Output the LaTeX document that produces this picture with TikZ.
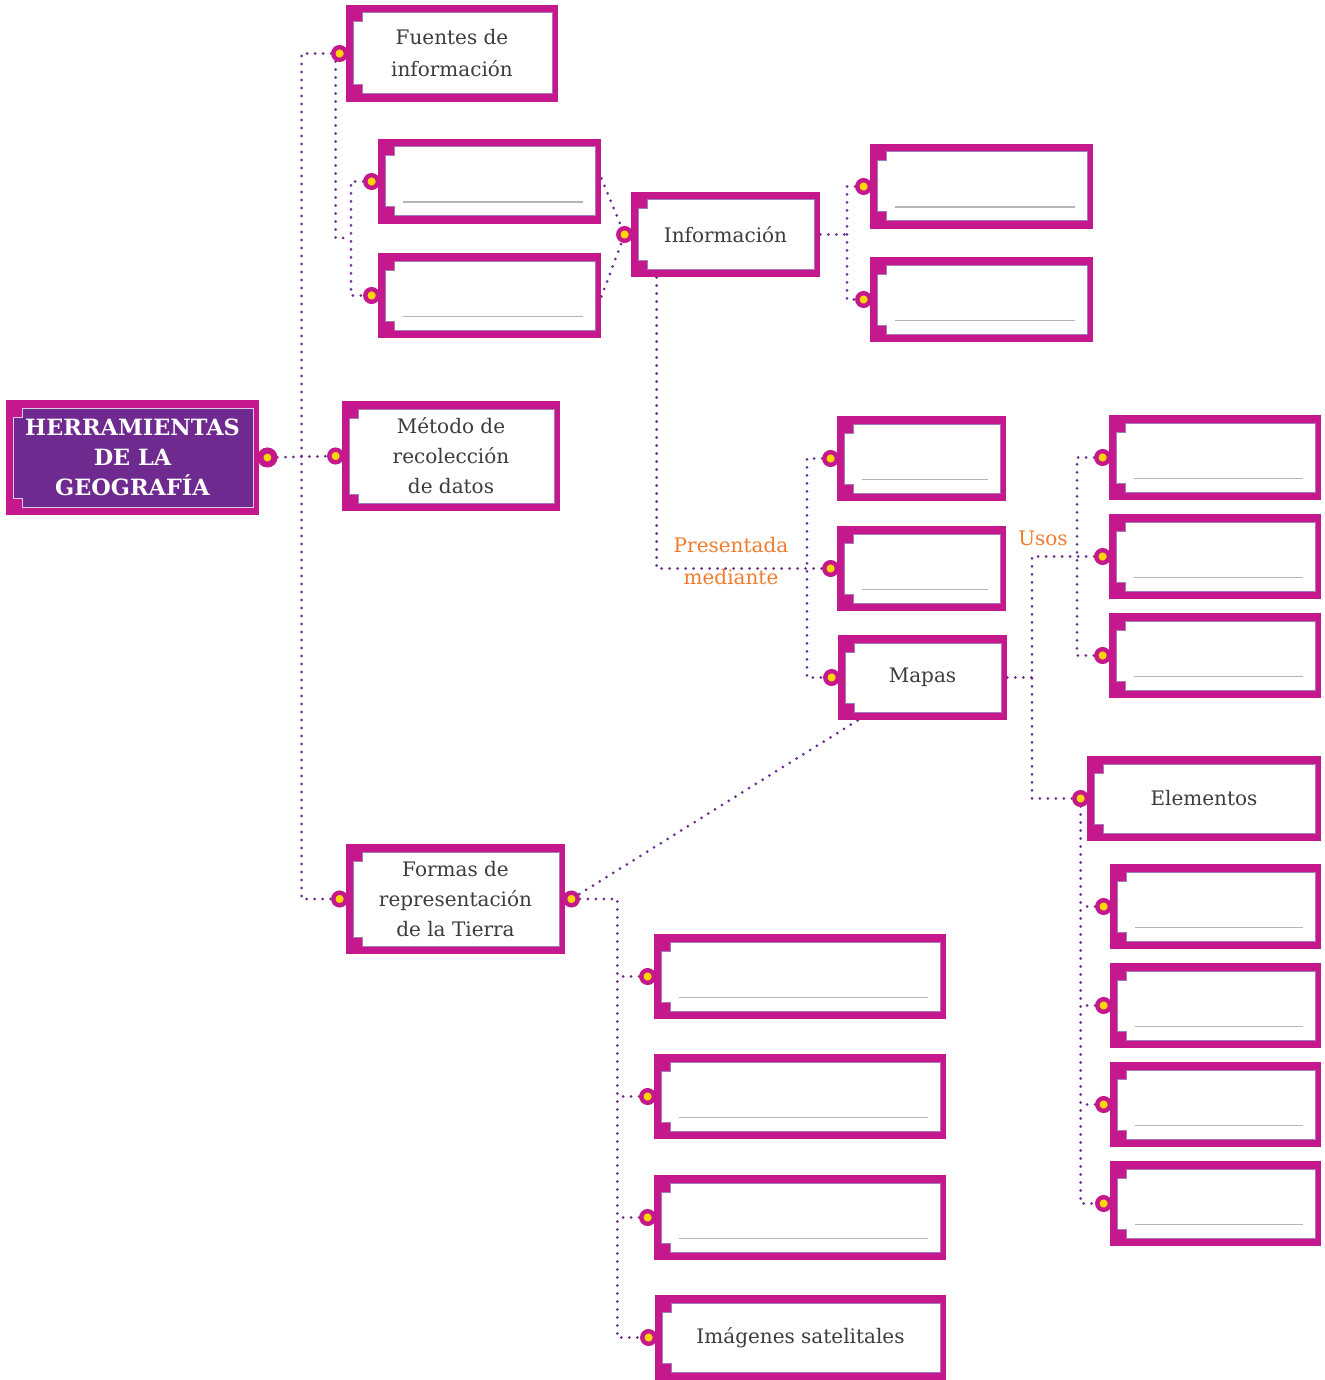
\documentclass[tikz,border=0pt]{standalone}
\usepackage{fontspec}
\setmainfont{DejaVu Serif}
\usetikzlibrary{calc,backgrounds}

\definecolor{framecol}{HTML}{C5188C}
\definecolor{titlecol}{HTML}{6E2A8E}
\definecolor{linkcol}{HTML}{6B2C8F}
\definecolor{dotcol}{HTML}{FFD500}
\definecolor{edgecol}{HTML}{A67AB8}
\definecolor{labelcol}{HTML}{F07B2E}
\definecolor{textcol}{HTML}{3C3C3C}
\definecolor{writecol}{HTML}{B4B4BA}

\tikzset{
  tag inner/.store in=\taginner, tag inner=white,
  tag edge/.store in=\tagedge,   tag edge=edgecol,
  tagbox/.style={rectangle, fill=framecol, inner sep=0pt, align=center,
    text=textcol, minimum height=42.5pt,
    path picture={% notched white field inside the frame
      \filldraw[fill=\taginner, draw=\tagedge, line width=0.5pt]
        let \p1=(path picture bounding box.north west),
            \p2=(path picture bounding box.south east) in
        (\x1+8pt,\y1-4pt) -- (\x2-3pt,\y1-4pt) -- (\x2-3pt,\y2+4pt)
        -- (\x1+8pt,\y2+4pt) -- (\x1+8pt,\y2+8.5pt) -- (\x1+3.5pt,\y2+8.5pt)
        -- (\x1+3.5pt,\y1-8.5pt) -- (\x1+8pt,\y1-8.5pt) -- cycle;
    }},
  dot/.style={circle, fill=dotcol, draw=framecol, line width=2.2pt,
    minimum size=6.3pt, inner sep=0pt},
  dot big/.style={line width=3pt, minimum size=7pt},
  link/.style={draw=linkcol, line width=1.5pt, line cap=round,
    dash pattern=on 0pt off 4pt},
  writeline/.style={draw=writecol, line width=0.9pt},
  tagtext/.style={text=labelcol},
}

\begin{document}
\begin{tikzpicture}[x=0.5pt, y=-0.5pt, nodes={font=\fontsize{10}{15}\selectfont}]
\useasboundingbox (0,0) rectangle (1324,1380);

% boxes with text
\node[tagbox, tag inner=titlecol, tag edge=white!75!titlecol, text=white,
      font=\bfseries\fontsize{11.2}{15}\selectfont,
      minimum width=126.5pt, minimum height=57.5pt] (main) at (132.5,457.5)
  {HERRAMIENTAS\\DE LA\\GEOGRAFÍA};
\node[tagbox, minimum width=106pt, minimum height=48.5pt,
      font=\fontsize{10}{16}\selectfont] (fuentes) at (452,53.5)
  {Fuentes de\\información};
\node[tagbox, minimum width=94.5pt] (info) at (725.5,234.5) {Información};
\node[tagbox, minimum width=109pt, minimum height=55pt] (metodo) at (451,456)
  {Método de\\recolección\\de datos};
\node[tagbox, minimum width=84.5pt] (mapas) at (922.5,677.5) {Mapas};
\node[tagbox, minimum width=117pt] (elementos) at (1204,798.5) {Elementos};
\node[tagbox, minimum width=109.5pt, minimum height=55pt] (formas) at (455.5,899)
  {Formas de\\representación\\de la Tierra};
\node[tagbox, minimum width=145.5pt] (imagenes) at (800.5,1337.5)
  {Imágenes satelitales};

% empty boxes to fill in: name/x/y/width
\foreach \name/\x/\y/\w in {
    a1/489.5/181.5/111.5, a2/489.5/295.5/111.5,
    b1/981.5/186.5/111.5, b2/981.5/299.5/111.5,
    c1/921.5/458.5/84.5,  c2/921.5/568.5/84.5,
    u1/1215/457.5/106,    u2/1215/556.5/106,    u3/1215/655.5/106,
    e1/1215.5/906.5/105.5, e2/1215.5/1005.5/105.5,
    e3/1215.5/1104.5/105.5, e4/1215.5/1203.5/105.5,
    f1/800/976.5/146,     f2/800/1096.5/146,    f3/800/1217.5/146} {
  \node[tagbox, minimum width=\w pt] (\name) at (\x,\y) {};
  \draw[writeline] ([shift={(12.5pt,11pt)}]\name.south west)
    -- ([shift={(-9pt,11pt)}]\name.south east);
  \node[dot] (\name-in) at ([xshift=-3pt]\name.west) {};
}

% connection dots
\node[dot, dot big] (main-out) at ([xshift=4pt]main.east) {};
\foreach \name in {fuentes, info, metodo, mapas, elementos, formas, imagenes}
  \node[dot] (\name-in) at ([xshift=-3pt]\name.west) {};
\node[dot] (formas-out) at ([xshift=3pt]formas.east) {};

% labels
\node[tagtext] (presentada) at (731,545) {Presentada};
\node[tagtext] (mediante) at (731,577) {mediante};
\node[tagtext] (usos) at (1043,538) {Usos};

% dotted links
\begin{scope}[on background layer]
  \draw[link] (main-out) -- (metodo-in);
  \draw[link] (fuentes-in) -- ++(-38,0) |- (formas-in);
  \draw[link] ([xshift=-2pt]fuentes-in.center) |- (351,238) coordinate (abr);
  \draw[link] (a1-in) -| (abr) |- (a2-in);
  \draw[link] ([yshift=1.5pt]a1.east) -- (info-in);
  \draw[link] ([yshift=-0.5pt]a2.east) -- (info-in);
  \draw[link] (info.east) -- (847,234.5) coordinate (bbr);
  \draw[link] (b1-in) -| (bbr) |- (b2-in);
  \draw[link] ([xshift=13pt]info.south west) |- (c2-in);
  \draw[link] (c1-in) -| (807,568.5) |- (mapas-in);
  \draw[link] (mapas.east) -- (1032,677.5) coordinate (mbr);
  \draw[link] (u2-in) -| (mbr) |- (elementos-in);
  \draw[link] (u1-in) -| (1077,556.5) |- (u3-in);
  \draw[link] (elementos-in.center) |- (e4-in);
  \foreach \i in {1,2,3}
    \draw[link] (e\i-in) -- (e\i-in -| elementos-in);
  \draw[link] ([xshift=10pt]mapas.south west) -- (formas-out);
  \draw[link] (formas-out) -- ++(46,0) coordinate (fbr) |- (imagenes-in);
  \foreach \i in {1,2,3}
    \draw[link] (f\i-in) -- (f\i-in -| fbr);
\end{scope}
\end{tikzpicture}
\end{document}
